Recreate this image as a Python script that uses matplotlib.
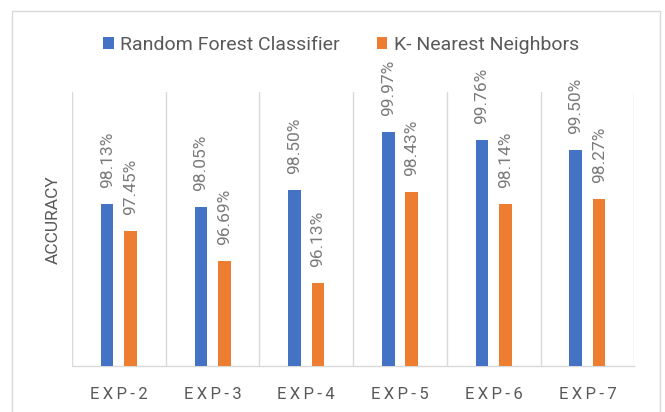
import matplotlib
matplotlib.use("Agg")
import matplotlib.pyplot as plt
from matplotlib.patches import Rectangle
import numpy as np

plt.rcParams['font.family'] = ['Roboto', 'DejaVu Sans']

categories = ["EXP-2", "EXP-3", "EXP-4", "EXP-5", "EXP-6", "EXP-7"]
rf_values = [98.13, 98.05, 98.50, 99.97, 99.76, 99.50]
knn_values = [97.45, 96.69, 96.13, 98.43, 98.14, 98.27]
series_names = ["Random Forest Classifier", "K- Nearest Neighbors"]
y_label = "ACCURACY"

blue = "#4472C4"
orange = "#ED7D31"
text_col = "#595959"
label_col = "#7a7a7a"
grid_col = "#d9d9d9"

fig = plt.figure(figsize=(6.65, 4.12), dpi=100)
ax = fig.add_axes([0.1083, 0.1109, 0.9538 - 0.1083, 0.7779 - 0.1109])

x = np.arange(len(categories))
w = 0.135
off = 0.125
b1 = ax.bar(x - off, rf_values, width=w, color=blue, label=series_names[0], zorder=3)
b2 = ax.bar(x + off, knn_values, width=w, color=orange, label=series_names[1], zorder=3)

ax.set_ylim(94, 101)
ax.set_xlim(-0.5, len(categories) - 0.5)

for bars, vals in ((b1, rf_values), (b2, knn_values)):
    for r, v in zip(bars, vals):
        ax.annotate(f"{v:.2f}%", (r.get_x() + r.get_width() / 2, v),
                    xytext=(0, 11.5), textcoords="offset points",
                    rotation=90, ha="center", va="bottom",
                    fontsize=12.5, color=label_col, annotation_clip=False)

# category separators
for b in np.arange(-0.5, len(categories), 1.0):
    ax.axvline(b, color=grid_col, lw=1, zorder=1)

for s in ["top", "left", "right"]:
    ax.spines[s].set_visible(False)
ax.spines["bottom"].set_color(grid_col)
ax.spines["bottom"].set_linewidth(1)
ax.set_yticks([])
ax.set_xticks(x)
ax.set_xticklabels(["\u2009".join(c) for c in categories], fontsize=12, color=text_col)
ax.tick_params(axis="x", length=0, pad=15)

ax.set_ylabel(y_label, fontsize=12.5, color=text_col)
ax.yaxis.set_label_coords(-0.02, 0.532)

leg = fig.legend(handles=[b1, b2], labels=series_names, loc="center",
                 bbox_to_anchor=(0.513, 0.891), ncol=2, frameon=False,
                 fontsize=14, handlelength=0.54, handleheight=0.54,
                 handletextpad=0.33, columnspacing=1.9)
for t in leg.get_texts():
    t.set_color(text_col)

fig.add_artist(Rectangle((12 / 665, -0.05), (660 - 12) / 665, 1 - 11 / 412 + 0.05,
                         transform=fig.transFigure, fill=False,
                         edgecolor=grid_col, lw=1))

fig.savefig("out.png", dpi=100)
